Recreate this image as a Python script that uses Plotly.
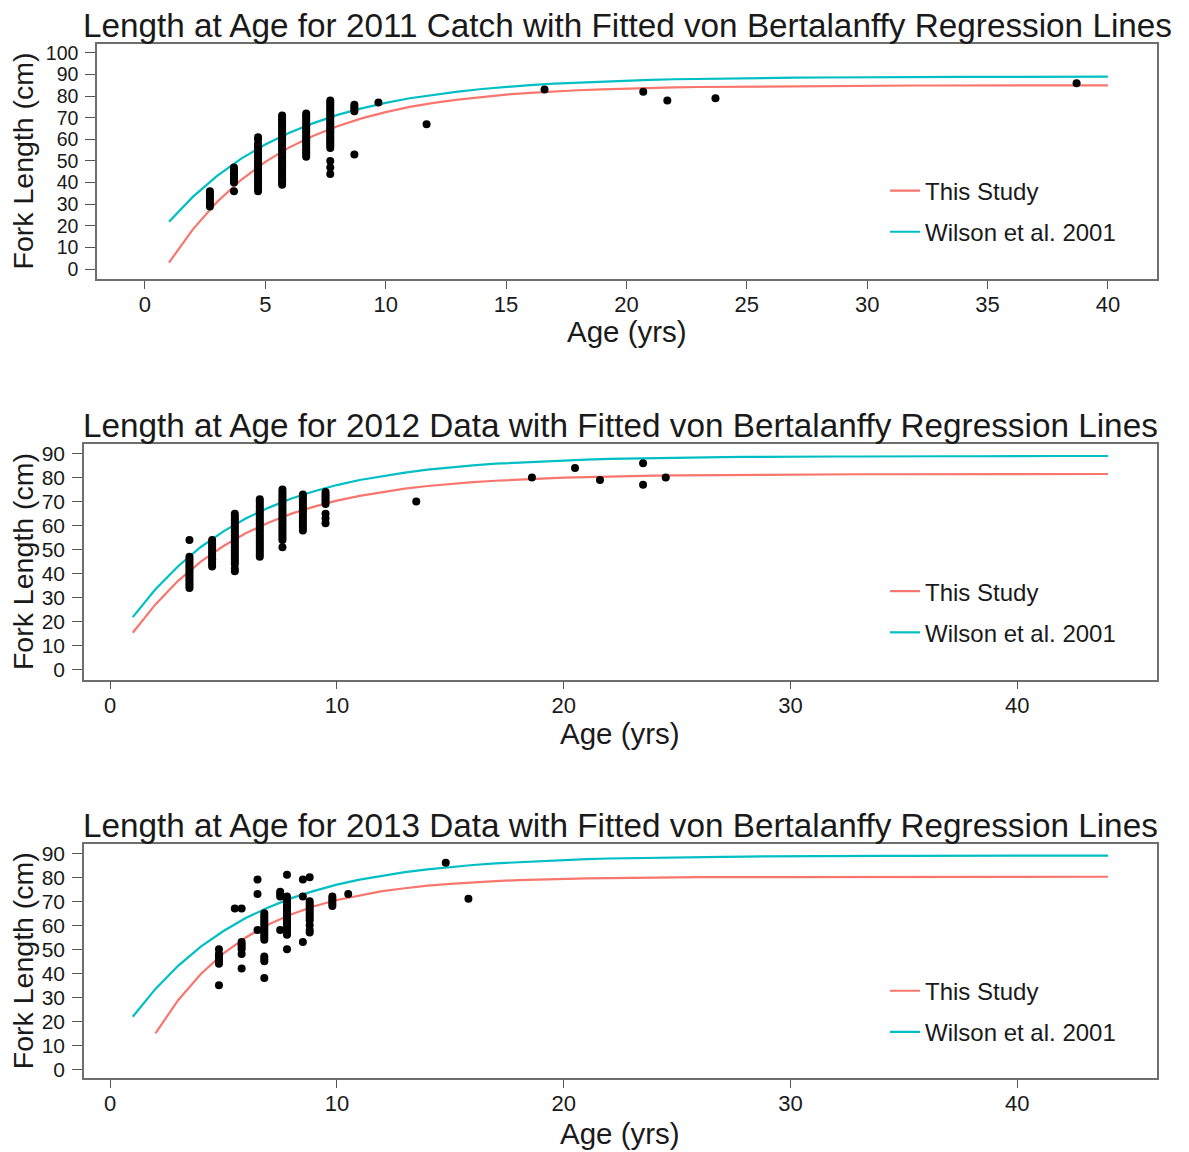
import plotly.graph_objects as go

# page body adds an 8px margin, so the figure is drawn 8px smaller and coordinates shifted
OFF = 8
W, H = 1189 - OFF, 1152 - OFF
RED = "#F8766D"
CYAN = "#00BFC4"
FONT = "Liberation Sans, Arial, sans-serif"

# ---------------- fitted curves (at integer ages) ----------------
curve_age_2011 = list(range(1, 41))
curve_age_long = list(range(1, 45))
curve_age_2013 = list(range(2, 45))

wilson_2001 = [21.9, 33.5, 43.1, 51.1, 57.6, 63.1, 67.5, 71.3, 74.3, 76.9,
               79.0, 80.7, 82.1, 83.3, 84.3, 85.1, 85.8, 86.3, 86.8, 87.2,
               87.5, 87.8, 88.0, 88.2, 88.3, 88.4, 88.5, 88.6, 88.7, 88.7,
               88.8, 88.8, 88.8, 88.9, 88.9, 88.9, 88.9, 88.9, 89.0, 89.0,
               89.0, 89.0, 89.0, 89.0]

this_study_2011 = [3.0, 18.5, 31.1, 41.3, 49.6, 56.3, 61.7, 66.1, 69.7, 72.6,
                   75.0, 76.9, 78.4, 79.6, 80.7, 81.5, 82.2, 82.7, 83.1, 83.5,
                   83.8, 84.0, 84.2, 84.3, 84.5, 84.6, 84.6, 84.7, 84.8, 84.8,
                   84.8, 84.9, 84.9, 84.9, 84.9, 84.9, 85.0, 85.0, 85.0, 85.0]

this_study_2012 = [15.4, 27.2, 37.0, 45.0, 51.5, 56.9, 61.3, 65.0, 67.9, 70.4,
                   72.4, 74.0, 75.4, 76.5, 77.4, 78.1, 78.7, 79.2, 79.6, 80.0,
                   80.2, 80.5, 80.7, 80.8, 80.9, 81.0, 81.1, 81.2, 81.2, 81.3,
                   81.3, 81.3, 81.4, 81.4, 81.4, 81.4, 81.5, 81.5, 81.5, 81.5,
                   81.5, 81.5, 81.5, 81.5]

this_study_2013 = [15.0, 28.8, 39.7, 48.3, 55.0, 60.4, 64.6, 67.9, 70.5, 72.5,
                   74.2, 75.4, 76.5, 77.2, 77.9, 78.4, 78.8, 79.1, 79.3, 79.5,
                   79.6, 79.8, 79.9, 79.9, 80.0, 80.0, 80.0, 80.1, 80.1, 80.1,
                   80.1, 80.1, 80.2, 80.2, 80.2, 80.2, 80.2, 80.2, 80.2, 80.2,
                   80.2, 80.2, 80.2]

# ---------------- observed length at age ----------------
ages_2011 = [2.7, 3.7, 4.7, 5.7, 6.7, 7.7, 8.7, 9.7, 11.7, 16.6, 20.7, 21.7, 23.7, 38.7]
lengths_2011 = [
    [29, 30, 31, 32, 33, 34, 35, 36],
    [36, 40, 41, 42, 43, 44, 45, 46, 47],
    [36, 37, 38, 39, 40, 41, 42, 43, 44, 45, 46, 47, 48, 49, 50, 51, 52, 53, 54, 55, 56, 57, 58, 60, 61],
    [39, 40, 41, 42, 43, 44, 45, 46, 47, 48, 49, 50, 51, 52, 53, 54, 55, 56, 57, 58, 59, 60, 61, 62,
     63, 64, 65, 66, 67, 68, 69, 70, 71],
    [52, 53, 54, 55, 56, 57, 58, 59, 60, 61, 62, 63, 64, 65, 66, 67, 68, 69, 70, 71, 72],
    [44, 47, 50, 56, 57, 58, 59, 60, 61, 62, 63, 64, 65, 66, 67, 68, 69, 70, 71, 72, 73, 74, 75, 76, 77, 78],
    [53, 73, 74, 75, 76],
    [77],
    [67],
    [83],
    [82],
    [78],
    [79],
    [86],
]

ages_2012 = [3.5, 4.5, 5.5, 6.6, 7.6, 8.5, 9.5, 13.5, 18.6, 20.5, 21.6, 23.5, 24.5]
lengths_2012 = [
    [34, 35, 36, 37, 38, 39, 40, 41, 42, 43, 44, 45, 46, 47, 54],
    [43, 44, 45, 46, 47, 48, 49, 50, 51, 52, 53, 54],
    [41, 42, 44, 45, 46, 47, 48, 49, 50, 51, 52, 53, 54, 55, 56, 57, 58, 59, 60, 61, 62, 63, 64, 65],
    [47, 48, 49, 50, 51, 52, 53, 54, 55, 56, 57, 58, 59, 60, 61, 62, 63, 64, 65, 66, 67, 68, 69, 70, 71],
    [51, 54, 55, 56, 57, 58, 59, 60, 61, 62, 63, 64, 65, 66, 67, 68, 69, 70, 71, 72, 73, 74, 75],
    [58, 59, 60, 61, 62, 63, 64, 65, 66, 67, 68, 69, 70, 71, 72, 73],
    [61, 63, 65, 69, 70, 71, 72, 73, 74],
    [70],
    [80],
    [84],
    [79],
    [77, 86],
    [80],
]

ages_2013 = [4.8, 5.5, 5.8, 6.5, 6.8, 7.5, 7.8, 8.5, 8.8, 9.8, 10.5, 14.8, 15.8]
lengths_2013 = [
    [35, 44, 45, 46, 47, 48, 50],
    [67],
    [42, 48, 50, 51, 52, 53, 67],
    [58, 73, 79],
    [38, 45, 46, 47, 54, 55, 56, 57, 58, 59, 60, 61, 62, 63, 64, 65],
    [58, 72, 73, 74],
    [50, 56, 57, 58, 59, 60, 61, 62, 63, 64, 65, 66, 67, 68, 69, 70, 71, 72, 81],
    [53, 72, 79],
    [57, 58, 60, 62, 63, 64, 65, 66, 67, 68, 69, 70, 80],
    [68, 69, 70, 71, 72],
    [73],
    [86],
    [71],
]

titles = [
    "Length at Age for 2011 Catch with Fitted von Bertalanffy Regression Lines",
    "Length at Age for 2012 Data with Fitted von Bertalanffy Regression Lines",
    "Length at Age for 2013 Data with Fitted von Bertalanffy Regression Lines",
]


def expand(ages, lengths):
    xs, ys = [], []
    for a, ls in zip(ages, lengths):
        for l in ls:
            xs.append(a)
            ys.append(l)
    return xs, ys


def px_x(p):
    return (p - OFF) / W


def px_y(p):
    return 1 - (p - OFF) / H


# panel geometry in page pixels: (left, top, right, bottom)
boxes = [(97, 42, 1157, 278), (84, 444, 1157, 680), (84, 845, 1157, 1080)]
xranges = [[-1.99, 42.04], [-1.15, 46.16], [-1.15, 46.16]]
yranges = [[-4.6, 104.15], [-4.15, 93.8], [-3.7, 93.8]]
xticks = [list(range(0, 41, 5)), list(range(0, 41, 10)), list(range(0, 41, 10))]
yticks = [list(range(0, 101, 10)), list(range(0, 91, 10)), list(range(0, 91, 10))]
ytick_sizes = [19.5, 21, 21]

panels = [
    (expand(ages_2011, lengths_2011), curve_age_2011, this_study_2011, curve_age_2011, wilson_2001[:40]),
    (expand(ages_2012, lengths_2012), curve_age_long, this_study_2012, curve_age_long, wilson_2001),
    (expand(ages_2013, lengths_2013), curve_age_2013, this_study_2013, curve_age_long, wilson_2001),
]

fig = go.Figure()
layout = dict(
    width=W, height=H, margin=dict(l=0, r=0, t=0, b=0),
    paper_bgcolor="white", plot_bgcolor="white",
    font=dict(family=FONT, color="#1a1a1a"),
    annotations=[],
)

legend_tops = [167, 569, 970]
legend_names = ["legend", "legend2", "legend3"]
title_cx = [627, 620, 620]
title_dy = [18, 19, 19]
agetitle_dy = [53, 54, 55]

for i, ((sx, sy), rx, ry, wx, wy) in enumerate(panels):
    n = "" if i == 0 else str(i + 1)
    xa, ya = "x" + n, "y" + n
    lg = legend_names[i]
    fig.add_trace(go.Scatter(x=rx, y=ry, mode="lines", name="This Study",
                             line=dict(color=RED, width=2.2), xaxis=xa, yaxis=ya,
                             legend=lg, legendgroup=f"a{i}"))
    fig.add_trace(go.Scatter(x=wx, y=wy, mode="lines", name="Wilson et al. 2001",
                             line=dict(color=CYAN, width=2.2), xaxis=xa, yaxis=ya,
                             legend=lg, legendgroup=f"b{i}"))
    fig.add_trace(go.Scatter(x=sx, y=sy, mode="markers", showlegend=False,
                             marker=dict(color="black", size=8), xaxis=xa, yaxis=ya))

    l, t, r, b = boxes[i]
    axis_common = dict(showline=True, mirror=True, linecolor="#6e6e6e", linewidth=1.5,
                       showgrid=False, zeroline=False, ticks="outside",
                       tickwidth=1.3, tickcolor="#555")
    layout["xaxis" + n] = dict(domain=[px_x(l), px_x(r)], range=xranges[i], anchor=ya,
                               tickvals=xticks[i], ticklen=8, ticklabelstandoff=-3,
                               tickfont=dict(size=22, family=FONT, color="#1a1a1a"), **axis_common)
    layout["yaxis" + n] = dict(domain=[px_y(b), px_y(t)], range=yranges[i], anchor=xa,
                               tickvals=yticks[i], ticklen=10, ticklabelstandoff=3,
                               tickfont=dict(size=ytick_sizes[i], family=FONT, color="#1a1a1a"),
                               **axis_common)
    layout[lg] = dict(x=px_x(885), y=px_y(legend_tops[i]), xanchor="left", yanchor="top",
                      bgcolor="rgba(0,0,0,0)", font=dict(size=24, family=FONT, color="#1a1a1a"),
                      traceorder="grouped", tracegroupgap=7, itemwidth=30)

    cx = title_cx[i]
    layout["annotations"].append(dict(text=titles[i], x=px_x(cx), y=px_y(t - title_dy[i]),
                                      xref="paper", yref="paper", showarrow=False,
                                      font=dict(size=33.3, family=FONT, color="#1a1a1a"),
                                      xanchor="center", yanchor="middle"))
    layout["annotations"].append(dict(text="Age (yrs)", x=px_x(cx), y=px_y(b + agetitle_dy[i]),
                                      xref="paper", yref="paper", showarrow=False,
                                      font=dict(size=29.5, family=FONT, color="#1a1a1a"),
                                      xanchor="center", yanchor="middle"))
    layout["annotations"].append(dict(text="Fork Length (cm)", x=px_x(23), y=px_y((t + b) / 2),
                                      xref="paper", yref="paper", showarrow=False, textangle=-90,
                                      font=dict(size=28.5, family=FONT, color="#1a1a1a"),
                                      xanchor="center", yanchor="middle"))

fig.update_layout(**layout)
fig.write_html("out.html")
